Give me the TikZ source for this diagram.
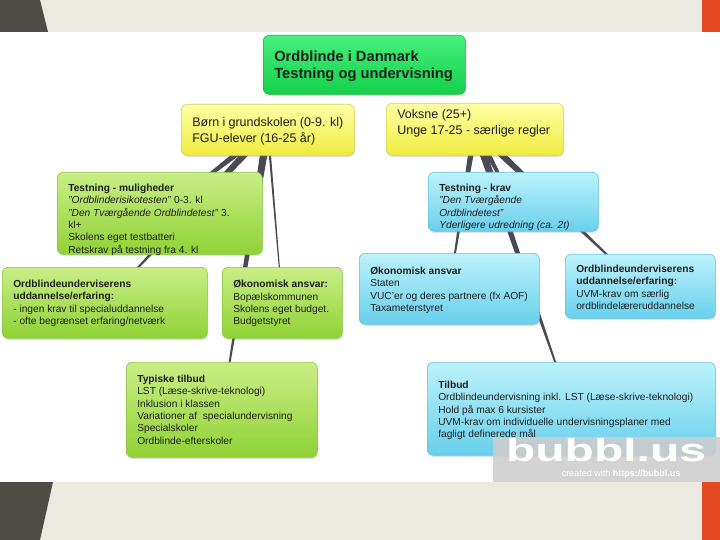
\documentclass[tikz,border=0pt]{standalone}
\usepackage{fontspec}
\setmainfont{Liberation Sans}
\usetikzlibrary{calc,shadows}
\pgfdeclarelayer{bg}
\pgfsetlayers{bg,main}
\definecolor{beige}{HTML}{ECEADF}
\definecolor{darkband}{HTML}{4D4D45}
\definecolor{orangeband}{HTML}{E34A24}
\definecolor{txt}{HTML}{1E1E1E}
\definecolor{conncol}{HTML}{4A4A54}
\definecolor{rootT}{HTML}{46F07C}
\definecolor{rootB}{HTML}{14D04A}
\definecolor{rootD}{HTML}{1DB845}
\definecolor{yelT}{HTML}{FFFFA6}
\definecolor{yelB}{HTML}{F0EC3E}
\definecolor{yelD}{HTML}{D9D055}
\definecolor{grnT}{HTML}{C9EE86}
\definecolor{grnB}{HTML}{90D236}
\definecolor{grnD}{HTML}{8CC640}
\definecolor{bluT}{HTML}{BDF2FB}
\definecolor{bluB}{HTML}{68D0EC}
\definecolor{bluD}{HTML}{68C4DE}
\definecolor{wmgray}{HTML}{CDCDCD}
\tikzset{
  bub/.style={rectangle, rounded corners=6pt, inner xsep=11pt, inner ysep=0pt,
    anchor=north west, text=txt, line width=0.6pt,
    drop shadow={opacity=0.22, shadow xshift=0.8pt, shadow yshift=-1.8pt}},
  rootst/.style={bub, draw=rootD, top color=rootT, bottom color=rootB,
    font=\fontsize{14.7}{17}\selectfont\bfseries},
  yst/.style={bub, draw=yelD, top color=yelT, bottom color=yelB,
    font=\fontsize{12.5}{16}\selectfont},
  gst/.style={bub, draw=grnD, top color=grnT, bottom color=grnB,
    font=\fontsize{10.2}{12.4}\selectfont},
  bst/.style={bub, draw=bluD, top color=bluT, bottom color=bluB,
    font=\fontsize{10.2}{12.4}\selectfont},
  conn/.style={fill=conncol}
}
\newcommand\bub[8]{\node[#2] (#1) at (#3,#4)
  {\parbox[c][#6pt][t]{\dimexpr#5pt-22pt\relax}{\raggedright\vspace*{#7pt}#8}};}
% \conwedge{parent}{child}{half width at parent}{half width at child}
\newcommand\conwedge[4]{\fill[conn]
  ($(#1.center)!#3pt!90:(#2.center)$) --
  ($(#2.center)!#4pt!-90:(#1.center)$) --
  ($(#2.center)!#4pt!90:(#1.center)$) --
  ($(#1.center)!#3pt!-90:(#2.center)$) -- cycle;}
\begin{document}
\begin{tikzpicture}[x=1pt,y=-1pt]
\useasboundingbox (0,0) rectangle (720,540);
\begin{pgfonlayer}{bg}
  \fill[white] (0,0) rectangle (720,540);
  \fill[beige] (0,0) rectangle (720,32);
  \fill[beige] (0,482) rectangle (720,540);
  \fill[darkband] (0,0) -- (40,0) -- (48,32) -- (0,32) -- cycle;
  \fill[darkband] (0,482) -- (53,482) -- (40,540) -- (0,540) -- cycle;
  \fill[orangeband] (702,0) rectangle (720,32);
  \fill[orangeband] (702,482) rectangle (720,540);
\end{pgfonlayer}

\bub{root}{rootst}{263}{35}{202}{59}{15.9}{Ordblinde i Danmark\\Testning og undervisning}
\bub{yl}{yst}{181}{104}{173}{51}{13}{Børn i grundskolen (0-9. kl)\\FGU-elever (16-25 år)}
\bub{yr}{yst}{386}{103}{177}{52}{6}{Voksne (25+)\\Unge 17-25 - særlige regler}

\bub{tm}{gst}{57}{172}{205}{82}{11.7}{\textbf{Testning - muligheder}\\
  \textit{"Ordblinderisikotesten"} 0-3. kl\\
  \textit{"Den Tværgående Ordblindetest"} 3.\\
  kl+\\
  Skolens eget testbatteri\\
  Retskrav på testning fra 4. kl}
\bub{ol}{gst}{2}{267}{205}{71}{12.7}{\textbf{Ordblindeunderviserens}\\
  \textbf{uddannelse/erfaring:}\\
  - ingen krav til specialuddannelse\\
  - ofte begrænset erfaring/netværk}
\bub{ok}{gst}{222}{267}{120}{71}{13}{\textbf{Økonomisk ansvar:}\\
  Bopælskommunen\\
  Skolens eget budget.\\
  Budgetstyret}
\bub{ty}{gst}{126}{362}{191}{95}{12.7}{\textbf{Typiske tilbud}\\
  LST (Læse-skrive-teknologi)\\
  Inklusion i klassen\\
  Variationer af\ \ specialundervisning\\
  Specialskoler\\
  Ordblinde-efterskoler}

\bub{tk}{bst}{428}{172}{170}{59}{11.7}{\textbf{Testning - krav}\\
  \textit{"Den Tværgående}\\
  \textit{Ordblindetest"}\\
  \textit{Yderligere udredning (ca. 2t)}}
\bub{ob}{bst}{359}{253}{180}{71}{13.7}{\textbf{Økonomisk ansvar}\\
  Staten\\
  VUC'er og deres partnere (fx AOF)\\
  Taxameterstyret}
\bub{ub}{bst}{565}{254}{150}{64}{10.7}{\textbf{Ordblindeunderviserens}\\
  \textbf{uddannelse/erfaring:}\\
  UVM-krav om særlig\\
  ordblindelæreruddannelse}
\bub{ti}{bst}{427}{362}{288}{93}{18.7}{\textbf{Tilbud}\\
  Ordblindeundervisning inkl. LST (Læse-skrive-teknologi)\\
  Hold på max 6 kursister\\
  UVM-krav om individuelle undervisningsplaner med\\
  fagligt definerede mål}

\begin{pgfonlayer}{bg}
  \conwedge{yl}{tm}{3.8}{0.3}
  \conwedge{yl}{ol}{3.8}{0.3}
  \conwedge{yl}{ok}{1.2}{0.4}
  \conwedge{yl}{ty}{4}{0.3}
  \conwedge{yr}{tk}{3.8}{0.3}
  \conwedge{yr}{ob}{3.2}{0.3}
  \conwedge{yr}{ub}{3.8}{0.3}
  \conwedge{yr}{ti}{4}{0.3}
\end{pgfonlayer}

% watermark
\fill[wmgray, opacity=0.88] (493,437) rectangle (720,482);
\node[text=white, font=\fontsize{32}{32}\selectfont\bfseries, inner sep=0pt]
  (wmlogo) at (606,450) {\scalebox{1.5}[1]{bubbl.us}};
\node[text=white, font=\fontsize{9}{10}\selectfont, inner sep=0pt]
  (wmtext) at (621,474) {created with \textbf{https://bubbl.us}};
\end{tikzpicture}
\end{document}
